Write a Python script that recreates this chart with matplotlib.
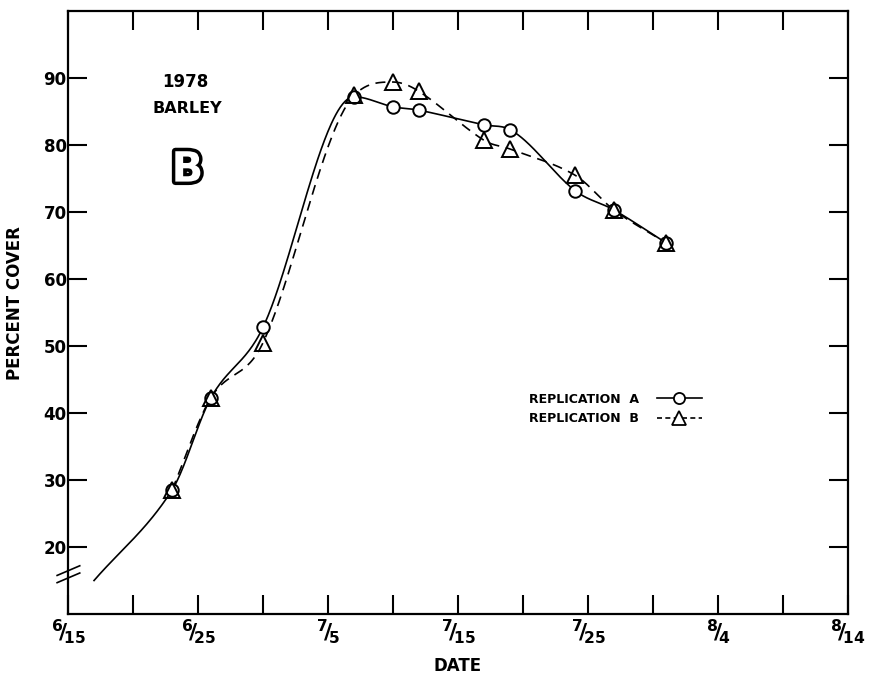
import numpy as np
import matplotlib.pyplot as plt
from matplotlib.lines import Line2D
import matplotlib.patheffects as pe

plt.rcParams['font.family'] = 'DejaVu Sans'
plt.rcParams['font.weight'] = 'bold'
plt.rcParams['mathtext.default'] = 'bf'

# days after 6/15 and percent cover
days = [8, 11, 15, 22, 25, 27, 32, 34, 39, 42, 46]
rep_a = [28.5, 42.3, 52.8, 87.2, 85.7, 85.2, 83.0, 82.3, 73.2, 70.3, 65.4]
rep_b = [28.5, 42.3, 50.5, 87.4, 89.4, 88.0, 80.7, 79.4, 75.5, 70.3, 65.4]
# solid curve for A starts before the first sample
curve_start_day = 2
curve_start_pct = 15

x_ticks = [0, 10, 20, 30, 40, 50, 60]
x_labels = [r'${}^{6}\!/\!{}_{15}$', r'${}^{6}\!/\!{}_{25}$', r'${}^{7}\!/\!{}_{5}$',
            r'${}^{7}\!/\!{}_{15}$', r'${}^{7}\!/\!{}_{25}$', r'${}^{8}\!/\!{}_{4}$',
            r'${}^{8}\!/\!{}_{14}$']
y_ticks = [20, 30, 40, 50, 60, 70, 80, 90]


def smooth(x, y, n=500):
    # cubic hermite through the points (central tangents, flat at peaks),
    # only to draw a smooth hand-drawn-looking curve
    x = np.asarray(x, float)
    y = np.asarray(y, float)
    h = np.diff(x)
    d = np.diff(y) / h
    m = np.zeros_like(y)
    for k in range(1, len(x) - 1):
        if d[k - 1] * d[k] > 0:
            c = (y[k + 1] - y[k - 1]) / (x[k + 1] - x[k - 1])
            lim = 3 * min(abs(d[k - 1]), abs(d[k]))
            m[k] = np.sign(c) * min(abs(c), lim)
    m[0] = d[0]
    m[-1] = d[-1]
    xs = np.linspace(x[0], x[-1], n)
    idx = np.clip(np.searchsorted(x, xs) - 1, 0, len(x) - 2)
    t = (xs - x[idx]) / h[idx]
    h00 = 2 * t**3 - 3 * t**2 + 1
    h10 = t**3 - 2 * t**2 + t
    h01 = -2 * t**3 + 3 * t**2
    h11 = t**3 - t**2
    ys = h00 * y[idx] + h10 * h[idx] * m[idx] + h01 * y[idx + 1] + h11 * h[idx] * m[idx + 1]
    return xs, ys


fig = plt.figure(figsize=(8.69, 6.79), dpi=100)
ax = fig.add_axes([0.0783, 0.0957, 0.8975, 0.8881])

xa, ya = smooth([curve_start_day] + days, [curve_start_pct] + rep_a)
xb, yb = smooth(days, rep_b)
ax.plot(xa, ya, color='black', lw=1.2)
ax.plot(xb, yb, color='black', lw=1.2, linestyle=(0, (6, 4)))
ax.plot(days, rep_a, linestyle='none', marker='o', ms=9, mfc='white', mec='black', mew=1.4)
ax.plot(days, rep_b, linestyle='none', marker='^', ms=11, mfc='none', mec='black', mew=1.4)

ax.set_xlim(0, 60)
ax.set_ylim(10, 100)
ax.set_xticks(x_ticks)
ax.set_xticklabels(x_labels, fontsize=16)
ax.set_xticks([5, 15, 25, 35, 45, 55], minor=True)
ax.set_yticks(y_ticks)
ax.set_yticklabels([str(v) for v in y_ticks], fontsize=12, fontweight='bold')

ax.tick_params(axis='both', which='both', direction='in', length=14, width=1.5,
               top=True, right=True)
ax.tick_params(axis='y', pad=1)
ax.tick_params(axis='x', pad=2)
for s in ax.spines.values():
    s.set_linewidth(1.6)

ax.set_xlabel('DATE', fontsize=12, fontweight='bold', labelpad=8)
ax.set_ylabel('PERCENT COVER', fontsize=12, fontweight='bold')
ax.yaxis.set_label_coords(-0.056, 0.515)

# axis break marks
for off in (0.0, 0.012):
    ax.plot([-0.014, 0.015], [0.052 + off, 0.068 + off], transform=ax.transAxes,
            color='black', lw=1.2, clip_on=False)

ax.text(0.151, 0.882, '1978', transform=ax.transAxes, ha='center', va='center',
        fontsize=12, fontweight='bold')
ax.text(0.153, 0.838, 'BARLEY', transform=ax.transAxes, ha='center', va='center',
        fontsize=11.5, fontweight='bold')
ax.text(0.153, 0.737, 'B', transform=ax.transAxes, ha='center', va='center',
        fontsize=30, fontweight='bold', color='white',
        path_effects=[pe.withStroke(linewidth=5, foreground='black')])

handles = [
    Line2D([], [], color='black', lw=1.2, marker='o', ms=8, mfc='white', mec='black', mew=1.3),
    Line2D([], [], color='black', lw=1.2, linestyle=(0, (3, 2)), marker='^', ms=10,
           mfc='white', mec='black', mew=1.3),
]
ax.legend(handles, ['REPLICATION  A', 'REPLICATION  B'], loc='center',
          bbox_to_anchor=(0.702, 0.340), frameon=False, markerfirst=False,
          prop={'size': 9, 'weight': 'bold'}, handlelength=3.6, handletextpad=1.4,
          labelspacing=0.5, borderpad=0)

fig.savefig('out.png', dpi=100)
